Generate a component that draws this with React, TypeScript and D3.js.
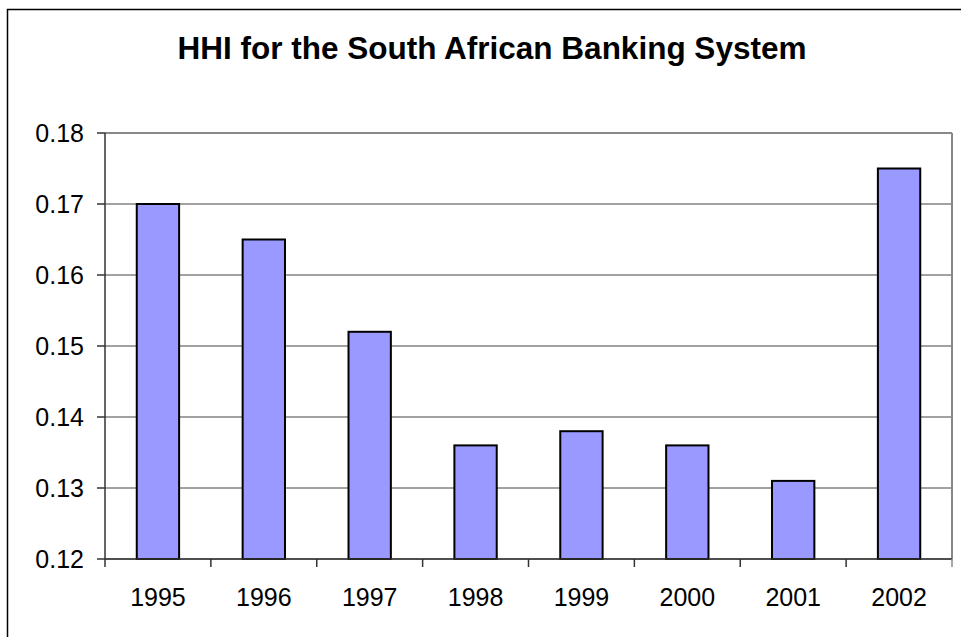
import React from "react";
import * as d3 from "d3";

const categories = ["1995", "1996", "1997", "1998", "1999", "2000", "2001", "2002"];
const values = [0.17, 0.165, 0.152, 0.136, 0.138, 0.136, 0.131, 0.175];
const yTicks = [0.12, 0.13, 0.14, 0.15, 0.16, 0.17, 0.18];
const title = "HHI for the South African Banking System";

const W = 961;
const H = 637;
const plot = { left: 105, right: 952, top: 133, bottom: 559 };
const FONT = "'Liberation Sans', Arial, Helvetica, sans-serif";

export default function App() {
  const x = d3
    .scaleBand<string>()
    .domain(categories)
    .range([plot.left, plot.right])
    .paddingInner(0)
    .paddingOuter(0);
  const y = d3.scaleLinear().domain([0.12, 0.18]).range([plot.bottom, plot.top]);
  const bw = x.bandwidth() / 2.5;
  const fmt = d3.format(".2f");

  return (
    <svg
      width={W}
      height={H}
      style={{ position: "absolute", left: 0, top: 0, background: "#fff" }}
    >
      <rect x={0} y={0} width={W} height={H} fill="#fff" />
      {/* outer chart border */}
      <rect x={7.5} y={9.5} width={W + 20} height={H + 20} fill="none" stroke="#000" strokeWidth={1.5} />
      <text
        x={492}
        y={59}
        textAnchor="middle"
        fontFamily={FONT}
        fontWeight="bold"
        fontSize={31.5}
        fill="#000"
      >
        {title}
      </text>
      {/* gridlines */}
      {yTicks.map((t) => (
        <line
          key={"g" + t}
          x1={plot.left}
          x2={plot.right}
          y1={y(t)}
          y2={y(t)}
          stroke="#444"
          strokeWidth={1}
        />
      ))}
      {/* plot area border (top, right) */}
      <line x1={plot.left} x2={plot.right} y1={plot.top} y2={plot.top} stroke="#888" strokeWidth={2} />
      <line x1={plot.right} x2={plot.right} y1={plot.top} y2={plot.bottom} stroke="#888" strokeWidth={2} />
      {/* bars */}
      {categories.map((c, i) => {
        const cx = (x(c) as number) + x.bandwidth() / 2;
        return (
          <rect
            key={c}
            x={cx - bw / 2}
            y={y(values[i])}
            width={bw}
            height={plot.bottom - y(values[i])}
            fill="#9999FF"
            stroke="#000"
            strokeWidth={2}
          />
        );
      })}
      {/* y axis */}
      <line x1={plot.left} x2={plot.left} y1={plot.top} y2={plot.bottom} stroke="#333" strokeWidth={1.5} />
      {yTicks.map((t) => (
        <g key={"t" + t}>
          <line x1={plot.left - 8} x2={plot.left} y1={y(t)} y2={y(t)} stroke="#333" strokeWidth={1.5} />
          <text
            x={84}
            y={y(t)}
            dy="0.35em"
            textAnchor="end"
            fontFamily={FONT}
            fontSize={25}
            fill="#000"
          >
            {fmt(t)}
          </text>
        </g>
      ))}
      {/* x axis */}
      <line x1={plot.left} x2={plot.right} y1={plot.bottom} y2={plot.bottom} stroke="#333" strokeWidth={1.5} />
      {categories.map((c) => (
        <line
          key={"xt" + c}
          x1={x(c) as number}
          x2={x(c) as number}
          y1={plot.bottom}
          y2={plot.bottom + 8}
          stroke="#333"
          strokeWidth={1.5}
        />
      ))}
      <line x1={plot.right} x2={plot.right} y1={plot.bottom} y2={plot.bottom + 8} stroke="#888" strokeWidth={1.5} />
      {categories.map((c) => (
        <text
          key={"xl" + c}
          x={(x(c) as number) + x.bandwidth() / 2}
          y={606}
          textAnchor="middle"
          fontFamily={FONT}
          fontSize={25}
          fill="#000"
        >
          {c}
        </text>
      ))}
    </svg>
  );
}
